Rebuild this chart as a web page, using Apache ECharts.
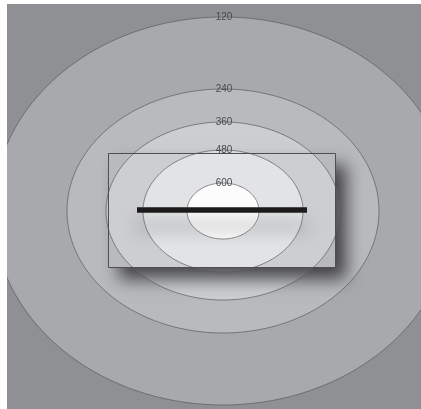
<!DOCTYPE html>
<html><head><meta charset="utf-8">
<script src="https://cdn.jsdelivr.net/npm/echarts@6/dist/echarts.min.js"></script>
<style>html,body{margin:0;padding:0;background:#fff}#c{width:421px;height:409px}</style>
</head><body><div id="c"></div>
<script>
// contour levels and their ellipse semi-axes (data units)
const levels = [120, 240, 360, 480, 600];
const radiusX = [230, 156, 117, 80, 36];
const radiusY = [194, 122, 89, 61, 28];
// source line end points
const sourceLine = [[-86, 1], [84, 1]];
// frame box: x0, yTop, x1, yBottom
const frameBox = [-115, 58, 112, -56];

const bandColors = ['#a8a9ad', '#b9babd', '#cdced1', '#e2e3e5', '#fcfcfc'];

const contourData = levels.map((l, i) => [radiusX[i], radiusY[i], l]);

function ellipsePoints(api, rx, ry, box) {
  const pts = [];
  const N = 180;
  for (let i = 0; i < N; i++) {
    const t = i / N * Math.PI * 2;
    let x = rx * Math.cos(t), y = ry * Math.sin(t);
    if (box) {
      x = Math.max(box[0], Math.min(box[2], x));
      y = Math.max(box[3], Math.min(box[1], y));
    }
    pts.push(api.coord([x, y]));
  }
  return pts;
}

function fillRender(box) {
  return function (params, api) {
    const rx = api.value(0), ry = api.value(1);
    return {
      type: 'polygon',
      silent: true,
      shape: { points: ellipsePoints(api, rx, ry, box) },
      style: { fill: bandColors[params.dataIndex], stroke: null }
    };
  };
}

const chart = echarts.init(document.getElementById('c'));
chart.setOption({
  backgroundColor: '#ffffff',
  animation: false,
  grid: { left: 7, right: 0, top: 4, bottom: 0, show: true, backgroundColor: '#8f9094', borderWidth: 0 },
  xAxis: { type: 'value', min: -216, max: 198, show: false },
  yAxis: { type: 'value', min: -198, max: 207, show: false },
  series: [
    {
      type: 'custom', z: 1, clip: true, data: contourData,
      encode: { x: 0, y: 1 },
      renderItem: fillRender(null)
    },
    {
      type: 'custom', z: 2, clip: true, data: [frameBox],
      encode: { x: 0, y: 1 },
      renderItem: function (params, api) {
        const p0 = api.coord([api.value(0), api.value(1)]);
        const p1 = api.coord([api.value(2), api.value(3)]);
        return {
          type: 'rect', silent: true,
          shape: { x: p0[0], y: p0[1], width: p1[0] - p0[0], height: p1[1] - p0[1] },
          style: { fill: '#c8c9cc', shadowBlur: 16, shadowOffsetX: 11, shadowOffsetY: 12, shadowColor: 'rgba(0,0,0,0.65)' }
        };
      }
    },
    {
      type: 'custom', z: 3, clip: true, data: contourData,
      encode: { x: 0, y: 1 },
      renderItem: fillRender(frameBox)
    },
    {
      type: 'line', z: 4, data: sourceLine, symbol: 'none', silent: true,
      lineStyle: { color: '#1c1a1b', width: 5, shadowBlur: 18, shadowOffsetY: 16, shadowColor: 'rgba(0,0,0,0.4)' }
    },
    {
      type: 'custom', z: 5, clip: true, data: contourData,
      encode: { x: 0, y: 1 },
      renderItem: function (params, api) {
        const rx = api.value(0), ry = api.value(1), lvl = api.value(2);
        const top = api.coord([0, ry]);
        return {
          type: 'group',
          children: [
            {
              type: 'polygon', silent: true,
              shape: { points: ellipsePoints(api, rx, ry, null) },
              style: { fill: 'none', stroke: '#5a5a5e', lineWidth: 0.7 }
            },
            {
              type: 'text', silent: true,
              style: { text: String(lvl), x: top[0] + 1, y: top[1], fill: '#4a4a4a',
                font: '10px "Liberation Sans", Arial, sans-serif', align: 'center', verticalAlign: 'middle' }
            }
          ]
        };
      }
    },
    {
      type: 'custom', z: 6, clip: true, data: [frameBox],
      encode: { x: 0, y: 1 },
      renderItem: function (params, api) {
        const p0 = api.coord([api.value(0), api.value(1)]);
        const p1 = api.coord([api.value(2), api.value(3)]);
        return {
          type: 'rect', silent: true,
          shape: { x: p0[0] + 0.5, y: p0[1] + 0.5, width: p1[0] - p0[0], height: p1[1] - p0[1] },
          style: { fill: 'none', stroke: '#4f4f52', lineWidth: 1 }
        };
      }
    },
    {
      type: 'line', z: 7, data: sourceLine, symbol: 'none', silent: true,
      lineStyle: { color: '#1c1a1b', width: 5 }
    }
  ]
});
</script>
</body></html>
